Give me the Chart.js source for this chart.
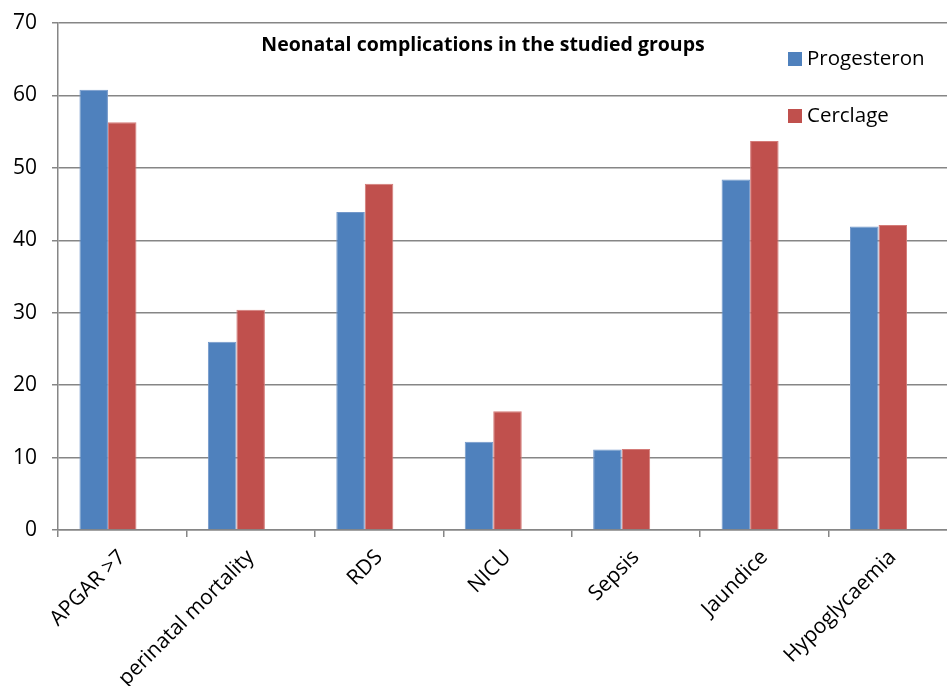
<!DOCTYPE html>
<html>
<head>
<meta charset="utf-8">
<script src="https://cdn.jsdelivr.net/npm/chart.js@4.4.1/dist/chart.umd.min.js"></script>
<style>
  html, body { margin: 0; padding: 0; background: #fff; overflow: hidden; }
  #frame { width: 947px; height: 686px; overflow: hidden; position: relative; }
  #box { width: 957px; height: 686px; position: absolute; left: 0; top: 0; }
</style>
</head>
<body>
<div id="frame"><div id="box"><canvas id="myChart"></canvas></div></div>
<script>
const categories = ["APGAR >7", "perinatal mortality", "RDS", "NICU", "Sepsis", "Jaundice", "Hypoglycaemia"];
const progesteron = [60.8, 26.0, 43.9, 12.2, 11.1, 48.4, 41.9];
const cerclage = [56.3, 30.4, 47.8, 16.4, 11.2, 53.7, 42.1];
// excel left an empty third series slot, so bars sit left of the tick centre
const emptySeries = categories.map(() => null);
const yTicks = [0, 10, 20, 30, 40, 50, 60, 70];

const chartTitle = "Neonatal complications in the studied groups";

Chart.defaults.font.family = "'Open Sans', sans-serif";
Chart.defaults.color = "#000";

// title + legend sit inside the plot area in the original
const insideLabels = {
  id: "insideLabels",
  afterDraw(chart) {
    const ctx = chart.ctx;
    ctx.save();
    ctx.fillStyle = "#000";
    ctx.font = "bold 19.5px 'Open Sans', sans-serif";
    ctx.textAlign = "center";
    ctx.textBaseline = "middle";
    ctx.fillText(chartTitle, 483, 45);

    ctx.font = "20.5px 'Open Sans', sans-serif";
    ctx.textAlign = "left";
    chart.data.datasets.slice(0, 2).forEach((ds, i) => {
      const y = 59 + i * 57;
      ctx.fillStyle = ds.backgroundColor;
      ctx.fillRect(788, y - 7, 14, 14);
      ctx.fillStyle = "#000";
      ctx.fillText(ds.label, 807, y);
    });
    ctx.restore();
  }
};

const data = {
  labels: categories,
  datasets: [
    {
      label: "Progesteron",
      data: progesteron,
      backgroundColor: "#4F81BD",
      borderColor: "#7398CA",
      borderWidth: 1,
    },
    {
      label: "Cerclage",
      data: cerclage,
      backgroundColor: "#C0504D",
      borderColor: "#D47B78",
      borderWidth: 1,
    },
    {
      label: "",
      data: emptySeries,
      backgroundColor: "transparent",
    },
  ],
};

const config = {
  type: "bar",
  data: data,
  plugins: [insideLabels],
  options: {
    responsive: true,
    maintainAspectRatio: false,
    animation: false,
    layout: { padding: { top: 23, right: 0, left: 0, bottom: 0 } },
    datasets: {
      bar: { categoryPercentage: 0.666, barPercentage: 1.0 },
    },
    plugins: {
      legend: { display: false },
      title: { display: false },
      tooltip: { enabled: false },
    },
    scales: {
      x: {
        afterFit: (scale) => { scale.height = 156; },
        grid: {
          display: true,
          offset: true,
          drawOnChartArea: false,
          tickLength: 7,
          color: "#868686",
          lineWidth: 1.5,
        },
        border: { color: "#868686", width: 1.5 },
        ticks: {
          autoSkip: false,
          minRotation: 45,
          maxRotation: 45,
          padding: 8,
          font: { size: 21 },
        },
      },
      y: {
        min: 0,
        max: 70,
        afterFit: (scale) => {
          scale.width = 58;
          scale.paddingTop = 0;
          scale.paddingBottom = 0;
        },
        afterBuildTicks: (scale) => {
          scale.ticks = yTicks.map((v) => ({ value: v }));
        },
        grid: {
          color: "#868686",
          lineWidth: 1.5,
          tickLength: 6,
        },
        border: { color: "#868686", width: 1.5 },
        ticks: {
          stepSize: 10,
          padding: 15,
          font: { size: 21 },
        },
      },
    },
  },
};

var myChart = new Chart(document.getElementById("myChart"), config);
</script>
</body>
</html>
